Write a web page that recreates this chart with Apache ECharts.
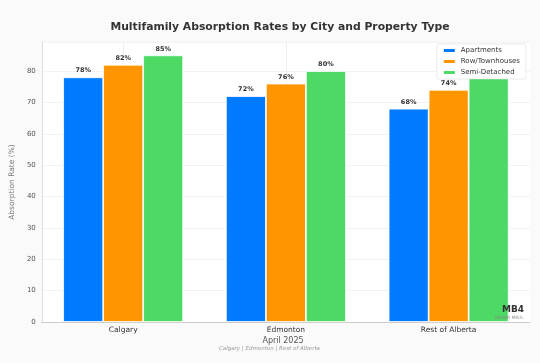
<!DOCTYPE html>
<html><head><meta charset="utf-8">
<script src="https://cdn.jsdelivr.net/npm/echarts@6/dist/echarts.min.js"></script>
<style>html,body{margin:0;padding:0;background:#fafafa}#c{width:540px;height:363px}</style>
</head><body><div id="c"></div>
<script>
const categories = ['Calgary', 'Edmonton', 'Rest of Alberta'];
const apartments = [78, 72, 68];
const rowTownhouses = [82, 76, 74];
const semiDetached = [85, 80, 78];
const yTicks = [0, 10, 20, 30, 40, 50, 60, 70, 80];
const seriesNames = ['Apartments', 'Row/Townhouses', 'Semi-Detached'];
const colors = ['#007AFF', '#FF9500', '#4CD964'];

const chart = echarts.init(document.getElementById('c'));
const font = 'DejaVu Sans';
const barLabel = {show: true, position: 'top', formatter: p => p.value + '%', fontFamily: font, fontSize: 6.5, fontWeight: 'bold', color: '#333', distance: 3};
function bar(name, data, i) {
  return {name, type: 'bar', data, barWidth: 40, barGap: '0%', z: 2,
    itemStyle: {color: colors[i], borderColor: '#fff', borderWidth: 0.8}, label: barLabel};
}
chart.setOption({
  backgroundColor: '#fafafa',
  textStyle: {fontFamily: font},
  title: {text: 'Multifamily Absorption Rates by City and Property Type', left: 275, top: 17, textAlign: 'center',
    textStyle: {fontFamily: font, fontSize: 10.8, fontWeight: 'bold', color: '#333'}},
  legend: {data: seriesNames, orient: 'vertical', right: 14, top: 44, itemWidth: 13, itemHeight: 5, itemGap: 4,
    padding: [3, 6, 3, 5], backgroundColor: '#fff', borderColor: '#ddd', borderWidth: 0.6, borderRadius: 2,
    textStyle: {fontFamily: font, fontSize: 7, color: '#333'}, icon: 'rect'},
  grid: {left: 38, right: 10, top: 42, bottom: 41, show: true, backgroundColor: '#fff', borderWidth: 0},
  xAxis: {type: 'category', data: categories, boundaryGap: true,
    axisLine: {lineStyle: {color: '#ccc', width: 1}}, axisTick: {show: false},
    axisLabel: {fontFamily: font, fontSize: 7.5, color: '#333', margin: 4}},
  yAxis: {type: 'value', min: 0, max: 89.25, interval: 10,
    name: 'Absorption Rate (%)', nameLocation: 'middle', nameGap: 20,
    nameTextStyle: {fontFamily: font, fontSize: 7.5, color: '#777'},
    axisLine: {show: true, lineStyle: {color: '#ddd'}}, axisTick: {show: false},
    axisLabel: {fontFamily: font, fontSize: 7, color: '#555', margin: 6, showMaxLabel: false,
      formatter: v => yTicks.indexOf(v) >= 0 ? String(v) : ''},
    splitLine: {lineStyle: {color: '#f0f0f0', width: 0.8}}},
  series: [
    {type: 'line', data: [], z: 0, silent: true, legendHoverLink: false,
      markLine: {silent: true, symbol: 'none', label: {show: false}, z: 0,
        lineStyle: {color: '#ececec', width: 0.8, type: 'solid'},
        data: categories.map(c => ({xAxis: c}))}},
    bar(seriesNames[0], apartments, 0),
    bar(seriesNames[1], rowTownhouses, 1),
    bar(seriesNames[2], semiDetached, 2)
  ],
  graphic: [
    {type: 'text', z: 100, x: 283, y: 337, style: {text: 'April 2025', fontFamily: font, fontSize: 8, fill: '#555', align: 'center'}},
    {type: 'text', z: 100, left: 219, top: 346, style: {text: 'Calgary | Edmonton | Rest of Alberta', fontFamily: font, fontSize: 5.5, fontStyle: 'italic', fill: '#999'}},
    {type: 'text', z: 100, right: 16, top: 305, style: {text: 'MB4', fontFamily: font, fontSize: 9, fontWeight: 'bold', fill: '#333', align: 'right'}},
    {type: 'text', z: 100, right: 16, top: 315, style: {text: 'NEVER MISS.', fontFamily: font, fontSize: 4.5, fill: '#888', align: 'right'}}
  ]
});
</script></body></html>
